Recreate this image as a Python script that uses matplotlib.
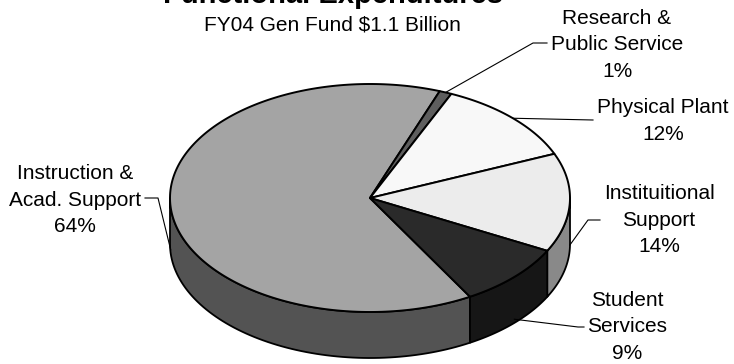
import numpy as np
import matplotlib
matplotlib.use('Agg')
import matplotlib.pyplot as plt
from matplotlib.patches import Polygon

plt.rcParams['font.family'] = ['Liberation Sans', 'DejaVu Sans']

# data
labels = ['Instruction &\nAcad. Support', 'Research &\nPublic Service', 'Physical Plant',
          'Instituitional\nSupport', 'Student\nServices']
shares = [64, 1, 12, 14, 9]
top_colors = ['#a4a4a4', '#5e5e5e', '#f8f8f8', '#ececec', '#2a2a2a']
side_colors = ['#535353', '#3a3a3a', '#9a9a9a', '#898989', '#161616']

title = 'Functional Expenditures'
subtitle = 'FY04 Gen Fund $1.1 Billion'

# pie geometry (pixels)
cx, cy = 370, 198
a, b = 200, 114
depth = 46
start = 300

# label layout: text centre, leader elbow, leader end
text_pos = [(75, 200), (617, 45), (663, 121), (659, 220), (627, 327)]
leader_pts = [[(158, 198), (145, 198)], [(533, 43), (547, 43)], [(593, 120)],
              [(588, 220), (600, 220)], [(578, 327), (584, 327)]]

fig = plt.figure(figsize=(7.34, 3.64), dpi=100)
ax = fig.add_axes([0, 0, 1, 1])
ax.set_xlim(0, 734)
ax.set_ylim(364, 0)
ax.axis('off')


def pt(t, dz=0):
    r = np.radians(t)
    return cx + a * np.cos(r), cy - b * np.sin(r) + dz


total = sum(shares)
bounds = []
cum = 0
for s in shares:
    t1 = start - cum / total * 360
    cum += s
    t2 = start - cum / total * 360
    bounds.append((t2, t1))

# side walls (front half only)
for (lo, hi), sc in zip(bounds, side_colors):
    for k in (-1, 0, 1):
        f_lo, f_hi = 180 + 360 * k, 360 + 360 * k
        l, h = max(lo, f_lo), min(hi, f_hi)
        if h - l <= 0:
            continue
        ts = np.linspace(l, h, 80)
        top = [pt(t) for t in ts]
        bot = [pt(t, depth) for t in ts[::-1]]
        ax.add_patch(Polygon(top + bot, closed=True, facecolor=sc,
                             edgecolor='black', lw=1.3, joinstyle='round'))

# top face
for (lo, hi), tc in zip(bounds, top_colors):
    ts = np.linspace(lo, hi, 200)
    verts = [(cx, cy)] + [pt(t) for t in ts]
    ax.add_patch(Polygon(verts, closed=True, facecolor=tc, edgecolor='black',
                         lw=1.4, joinstyle='round'))

# labels and leaders
for (lo, hi), lab, s, tp, lp in zip(bounds, labels, shares, text_pos, leader_pts):
    mid = (lo + hi) / 2
    dz = depth * 0.92 if np.sin(np.radians(mid)) < 0 else 0
    ax0 = pt(mid, dz)
    xs = [ax0[0]] + [p[0] for p in lp]
    ys = [ax0[1]] + [p[1] for p in lp]
    ax.plot(xs, ys, color='black', lw=0.8)
    ax.text(tp[0], tp[1], f'{lab}\n{s}%', ha='center', va='center',
            multialignment='center', fontsize=15, linespacing=1.5)

ax.text(333, 3, title, ha='center', va='baseline', fontsize=21, fontweight='bold')
ax.text(332, 25, subtitle, ha='center', va='center', fontsize=15)

fig.savefig('out.png', dpi=100)
